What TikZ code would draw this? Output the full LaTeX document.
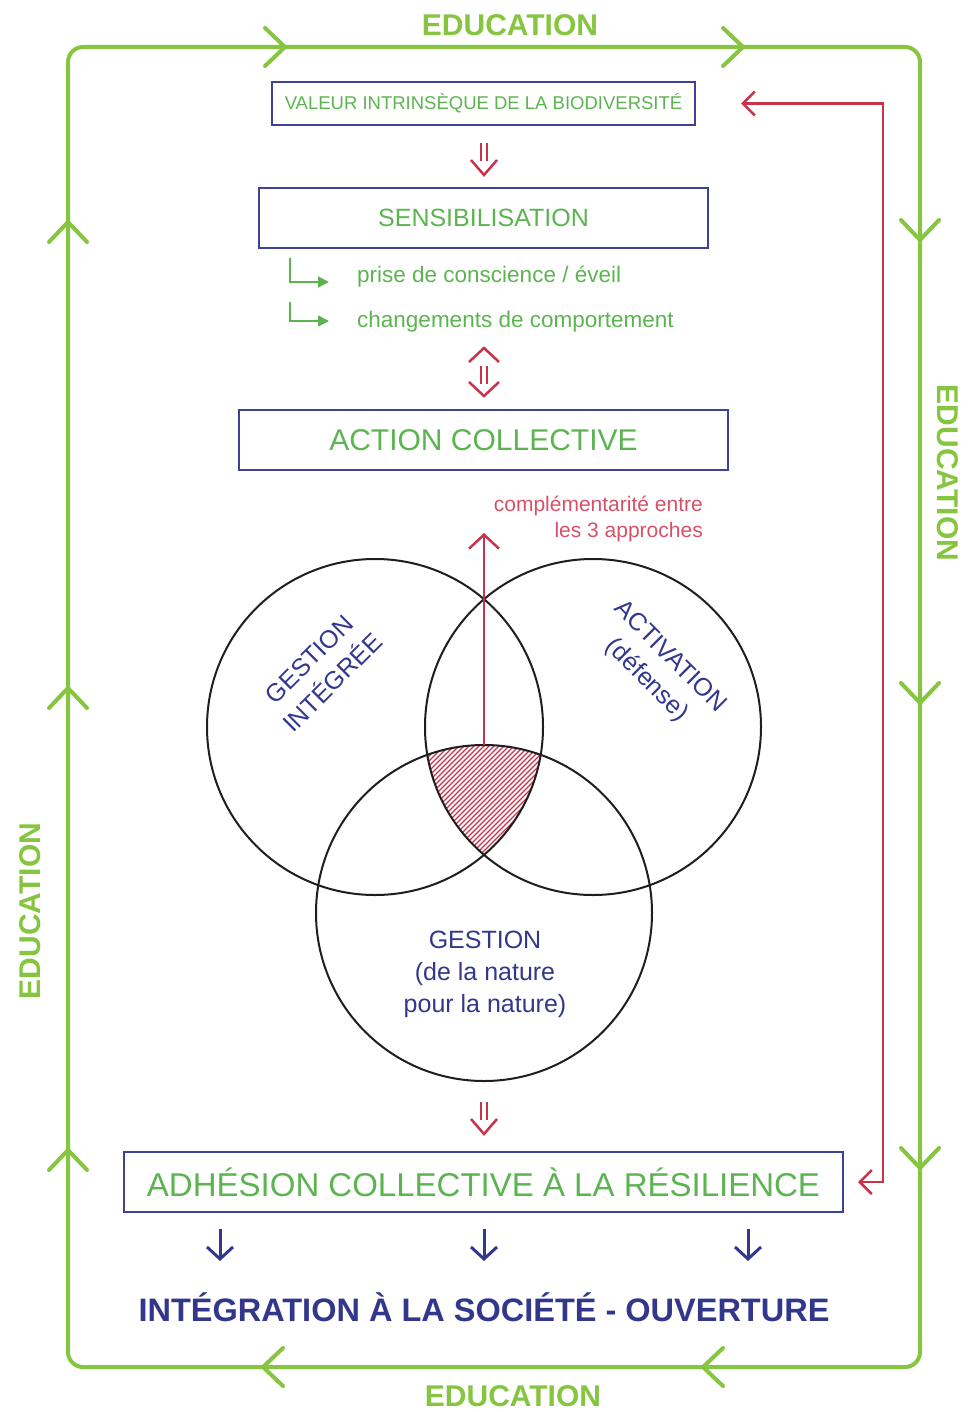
\documentclass[tikz,border=0pt]{standalone}
\usepackage{fontspec}
\setmainfont{Liberation Sans}
\usetikzlibrary{arrows.meta,calc}
\definecolor{framegreen}{RGB}{134,197,63}
\definecolor{textgreen}{RGB}{92,180,80}
\definecolor{navyc}{RGB}{50,55,140}
\definecolor{boxblue}{RGB}{60,66,150}
\definecolor{redc}{RGB}{200,50,75}
\definecolor{pinkt}{RGB}{215,80,105}
\definecolor{circc}{RGB}{30,30,30}
\begin{document}
\begin{tikzpicture}[x=1pt,y=-1pt,
  box/.style={draw=boxblue, line width=2pt, inner sep=0pt},
  gtxt/.style={text=textgreen},
  frameline/.style={draw=framegreen, line width=4pt},
  edu/.style={text=framegreen, font=\bfseries\fontsize{30}{30}\selectfont},
  redline/.style={draw=redc, line width=2.5pt},
  redthin/.style={draw=redc, line width=2pt},
  bluearr/.style={draw=navyc, line width=3pt, -{Straight Barb[length=12pt,width=26pt]}},
  gbullet/.style={draw=textgreen, line width=1.6pt, -{Triangle[length=11pt,width=11pt]}},
  circline/.style={draw=circc, line width=2pt},
  hatch/.style={draw=redc, line width=1.1pt},
  chev/.pic={\draw[frameline, line cap=round] (-20,-19) -- (0,0) -- (-20,19);},
  dbldown/.pic={\draw[redthin] (-3,-16) -- (-3,2) (3,-16) -- (3,2);
                \draw[redthin, line width=2.5pt] (-13,1) -- (0,16) -- (13,1);},
  dblboth/.pic={\draw[redthin] (-3,-6) -- (-3,12) (3,-6) -- (3,12);
                \draw[redthin, line width=2.5pt] (-15,-10) -- (0,-24) -- (15,-10);
                \draw[redthin, line width=2.5pt] (-15,10) -- (0,24) -- (15,10);}
]
\useasboundingbox (0,0) rectangle (969,1412);

% green frame
\draw[frameline, rounded corners=15pt] (68,47) rectangle (920,1367);
\pic at (285,47) {chev};
\pic at (743,47) {chev};
\pic[rotate=-90] at (920,240) {chev};
\pic[rotate=-90] at (920,703) {chev};
\pic[rotate=-90] at (920,1168) {chev};
\pic[rotate=180] at (703,1367) {chev};
\pic[rotate=180] at (263,1367) {chev};
\pic[rotate=90] at (68,222) {chev};
\pic[rotate=90] at (68,688) {chev};
\pic[rotate=90] at (68,1150) {chev};

\node[edu] (eduT) at (510,25) {EDUCATION};
\node[edu] (eduB) at (513,1396) {EDUCATION};
\node[edu, rotate=-90] (eduR) at (948,473) {EDUCATION};
\node[edu, rotate=90] (eduL) at (30,911) {EDUCATION};

% boxes
\node[box, gtxt, minimum width=423pt, minimum height=43pt, font=\fontsize{18.5}{20}\selectfont] (valeur) at (483.5,103.5) {VALEUR INTRINSÈQUE DE LA BIODIVERSITÉ};
\node[box, gtxt, minimum width=449pt, minimum height=60pt, font=\fontsize{25}{28}\selectfont] (sens) at (483.5,218) {SENSIBILISATION};
\node[box, gtxt, minimum width=489pt, minimum height=60pt, font=\fontsize{30}{32}\selectfont] (action) at (483.5,440) {ACTION COLLECTIVE};
\node[box, gtxt, minimum width=719pt, minimum height=60pt, font=\fontsize{33}{35}\selectfont] (adh) at (483.5,1182) {ADHÉSION COLLECTIVE À LA RÉSILIENCE};

\pic at (484,159) {dbldown};
\pic at (484,372) {dblboth};
\pic at (484,1118) {dbldown};

% bullets
\node[gtxt, anchor=west, inner sep=0pt, font=\fontsize{22.5}{24}\selectfont] (prise) at (357,277) {prise de conscience / éveil};
\node[gtxt, anchor=west, inner sep=0pt, font=\fontsize{22.5}{24}\selectfont] (chang) at (357,322) {changements de comportement};
\coordinate (b1s) at (290,258);
\coordinate (b1e) at (329,282);
\coordinate (b2s) at (290,302);
\coordinate (b2e) at (329,321);
\draw[gbullet] (b1s) |- (b1e);
\draw[gbullet] (b2s) |- (b2e);

% complementarity label
\node[text=pinkt, align=right, anchor=east, inner sep=0pt, font=\fontsize{21}{26}\selectfont] (compl) at (703,519) {complémentarité entre\\les 3 approches};

% hatched triple intersection
\begin{scope}
\clip (375,727) circle[radius=168pt];
\clip (593,727) circle[radius=168pt];
\clip (484,913) circle[radius=168pt];
\foreach \c in {1150,1155,...,1370} \draw[hatch] (\c-900,900) -- (\c-700,700);
\end{scope}

% circles
\draw[circline] (375,727) circle[radius=168pt];
\draw[circline] (593,727) circle[radius=168pt];
\draw[circline] (484,913) circle[radius=168pt];

% red arrow to label
\coordinate (top3) at (484,745);
\coordinate (complarr) at (484,533);
\draw[redline, -{Straight Barb[length=14pt,width=30pt]}] (top3) -- (complarr);

% circle texts
\node[text=navyc, align=center, rotate=45, font=\fontsize{25}{33}\selectfont] (gi) at (321,671) {GESTION\\INTÉGRÉE};
\node[text=navyc, align=center, rotate=-45, font=\fontsize{25}{33}\selectfont] (act) at (658,669) {ACTIVATION\\(défense)};
\node[text=navyc, align=center, font=\fontsize{25}{32}\selectfont] (gest) at (485,974) {GESTION\\(de la nature\\pour la nature)};

% red right connector
\coordinate (rA) at ([xshift=14pt]adh.east);
\coordinate (rB) at ([xshift=45pt]valeur.east);
\draw[redline, {Straight Barb[length=12pt,width=24pt]}-{Straight Barb[length=12pt,width=24pt]}] (rA) -| ([xshift=142pt]rB) -- (rB);

% bottom
\node[text=navyc, font=\bfseries\fontsize{32.5}{34}\selectfont] (integ) at (484,1307) {INTÉGRATION À LA SOCIÉTÉ - OUVERTURE};
\coordinate (a1s) at (220,1229);
\coordinate (a1e) at (220,1261);
\coordinate (a2s) at (484,1229);
\coordinate (a2e) at (484,1261);
\coordinate (a3s) at (748,1229);
\coordinate (a3e) at (748,1261);
\draw[bluearr] (a1s) -- (a1e);
\draw[bluearr] (a2s) -- (a2e);
\draw[bluearr] (a3s) -- (a3e);
\end{tikzpicture}
\end{document}
